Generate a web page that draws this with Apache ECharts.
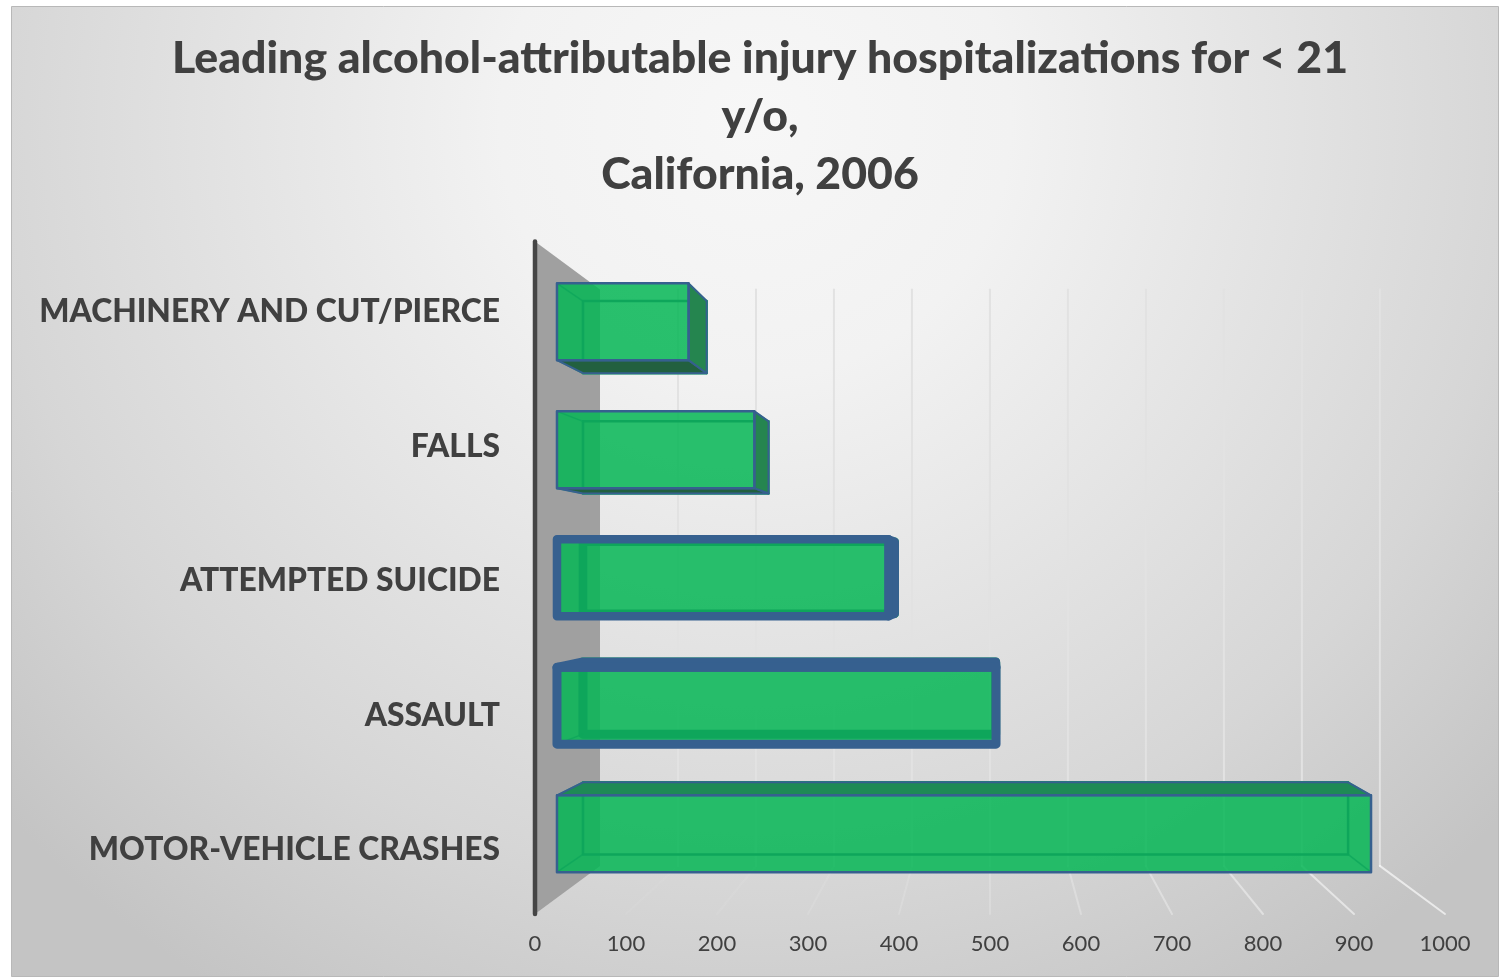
<!DOCTYPE html>
<html>
<head>
<meta charset="utf-8">
<style>html,body{margin:0;padding:0;background:#fff}#c{width:1499px;height:977px}</style>
<script src="https://cdn.jsdelivr.net/npm/echarts@6/dist/echarts.min.js"></script>
</head>
<body>
<div id="c"></div>
<script>
const titleText = 'Leading alcohol-attributable injury hospitalizations for < 21\ny/o,\nCalifornia, 2006';
const categories = ['MOTOR-VEHICLE CRASHES', 'ASSAULT', 'ATTEMPTED SUICIDE', 'FALLS', 'MACHINERY AND CUT/PIERCE'];
const values = [940, 507, 383, 228, 152];
const tickValues = [0, 100, 200, 300, 400, 500, 600, 700, 800, 900, 1000];

const DEPTH_X = 65, SHRINK = 0.143, BAR_NEAR = 0.338, BAR_FAR = 0.738, BAR_HALF = 0.3;
const BLUE = '#36608f', GRID = '#e2e2e2';
const heavyOutline = { 'ATTEMPTED SUICIDE': 8.5, 'ASSAULT': 9 };

function projector(api) {
  const x0 = api.coord([0, 0])[0];
  const yMid = (api.coord([0, 0])[1] + api.coord([0, categories.length - 1])[1]) / 2;
  return (p, t) => {
    const s = 1 - SHRINK * t;
    return [x0 + DEPTH_X * t + (p[0] - x0) * s, yMid + (p[1] - yMid) * s];
  };
}
function poly(points, style, z2) {
  return { type: 'polygon', shape: { points }, style, z2: z2 || 0 };
}
function line(points, stroke, lineWidth, z2) {
  return { type: 'polyline', shape: { points }, style: { fill: 'none', stroke, lineWidth, lineJoin: 'round', lineCap: 'round' }, z2: z2 || 0 };
}

function renderWall(params, api) {
  const P = projector(api);
  const band = api.size([0, 1])[1];
  const top = [api.coord([0, categories.length - 1])[0], api.coord([0, categories.length - 1])[1] - band / 2];
  const bot = [top[0], api.coord([0, 0])[1] + band / 2];
  return {
    type: 'group',
    children: [
      poly([top, P(top, 1), P(bot, 1), bot], { fill: '#a0a0a0' }),
      line([top, bot], '#454545', 4.5, 2)
    ]
  };
}

function renderGrid(params, api) {
  const P = projector(api);
  const band = api.size([0, 1])[1];
  const v = api.value(0);
  const top = [api.coord([v, 0])[0], api.coord([0, categories.length - 1])[1] - band / 2];
  const bot = [top[0], api.coord([0, 0])[1] + band / 2];
  const backTop = P(top, 1), backBot = P(bot, 1);
  if (v === 0) return { type: 'group', children: [] };
  const floorAlpha = 0.04 + 0.6 * (v / 1000) * (v / 1000);
  return {
    type: 'group',
    children: [
      line([backTop, backBot], GRID, 2),
      line([backBot, bot], 'rgba(255,255,255,' + floorAlpha + ')', 2)
    ]
  };
}

function renderBar(params, api) {
  const P = projector(api);
  const i = api.value(1);
  const band = api.size([0, 1])[1];
  const base = api.coord([0, i]);
  const end = api.coord([api.value(0), i]);
  const h = band * BAR_HALF;
  const c = { tl: [base[0], base[1] - h], tr: [end[0], base[1] - h], br: [end[0], base[1] + h], bl: [base[0], base[1] + h] };
  const f = {}, b = {};
  for (const k in c) { f[k] = P(c[k], BAR_NEAR); b[k] = P(c[k], BAR_FAR); }
  const heavy = heavyOutline[categories[i]];
  const lw = heavy || 2.5;
  const faceEdge = heavy || 2;
  const kids = [];
  const topOut = b.tl[1] < f.tl[1] - 0.5;
  const botOut = b.bl[1] > f.bl[1] + 0.5;
  const rightOut = b.tr[0] > f.tr[0] + 0.5;
  // front face
  kids.push(poly([f.tl, f.tr, f.br, f.bl], { fill: 'rgba(5,182,85,0.85)' }, 1));
  // back and connecting edges, seen through the front
  const backEdge = '#0ea65b', linkEdge = 'rgba(14,166,91,0.8)';
  kids.push(line([b.tl, b.tr, b.br, b.bl, b.tl], backEdge, lw, 2));
  ['tl', 'bl', 'tr', 'br'].forEach(k => kids.push(line([f[k], b[k]], linkEdge, 1.5, 2)));
  // outer faces
  if (topOut) kids.push(poly([f.tl, f.tr, b.tr, b.tl], { fill: '#1e8a55', stroke: BLUE, lineWidth: faceEdge, lineJoin: 'round' }, 3));
  if (botOut) kids.push(poly([f.bl, f.br, b.br, b.bl], { fill: '#22603f', stroke: BLUE, lineWidth: faceEdge, lineJoin: 'round' }, 3));
  if (rightOut) kids.push(poly([f.tr, f.br, b.br, b.tr], { fill: '#25854f', stroke: BLUE, lineWidth: faceEdge, lineJoin: 'round' }, 4));
  kids.push(line([f.tl, f.tr, f.br, f.bl, f.tl], BLUE, lw, 5));
  return { type: 'group', children: kids };
}

const chart = echarts.init(document.getElementById('c'), null, { renderer: 'canvas', width: 1499, height: 977 });
chart.setOption({
  animation: false,
  backgroundColor: '#ffffff',
  graphic: [{
    type: 'rect', z: -10, silent: true,
    shape: { x: 11.5, y: 6.5, width: 1487, height: 970 },
    style: {
      stroke: '#b8b8b8', lineWidth: 1,
      fill: {
        type: 'radial', x: 0.5, y: 0.12, r: 1.05,
        colorStops: [
          { offset: 0, color: '#f7f7f7' },
          { offset: 0.25, color: '#f2f2f2' },
          { offset: 0.5, color: '#e4e4e4' },
          { offset: 0.75, color: '#d6d6d6' },
          { offset: 1, color: '#c4c4c4' }
        ]
      }
    }
  }],
  title: {
    text: titleText, left: 755, top: 25, textAlign: 'center',
    textStyle: { fontFamily: 'Lato', fontWeight: 900, fontSize: 44.6, lineHeight: 58, color: '#404040' }
  },
  grid: { left: 535, top: 241.5, width: 910, height: 672.5 },
  xAxis: {
    type: 'value', min: 0, max: 1000, interval: 100,
    axisLine: { show: false }, axisTick: { show: false }, splitLine: { show: false },
    axisLabel: { margin: 19, fontFamily: 'Lato', fontSize: 22, color: '#404040', formatter: v => String(v) }
  },
  yAxis: {
    type: 'category', data: categories,
    axisLine: { show: false }, axisTick: { show: false }, splitLine: { show: false },
    axisLabel: { margin: 35, fontFamily: 'Lato', fontWeight: 900, fontSize: 31.8, color: '#404040', verticalAlign: 'top', lineHeight: 6 }
  },
  series: [
    { type: 'custom', z: 1, silent: true, renderItem: renderWall, data: [[0, 0]], encode: { x: 0, y: 1 } },
    { type: 'custom', z: 2, silent: true, renderItem: renderGrid, data: tickValues.map(t => [t, 0]), encode: { x: 0, y: 1 } },
    { type: 'custom', z: 3, silent: true, renderItem: renderBar, data: values.map((v, i) => [v, i]), encode: { x: 0, y: 1 } }
  ]
});
</script>
</body>
</html>
